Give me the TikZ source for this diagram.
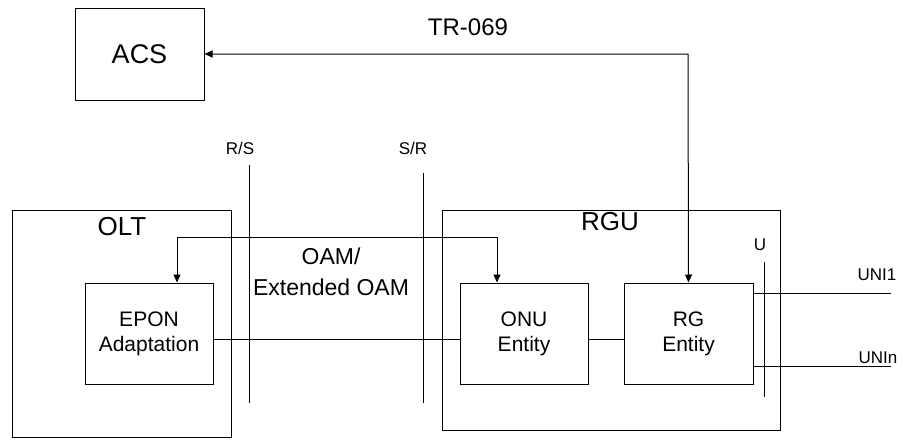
\documentclass[tikz,border=0pt]{standalone}
\usepackage{fontspec}
\setmainfont{Liberation Sans}
\usetikzlibrary{arrows.meta}
\begin{document}
\begin{tikzpicture}[x=1pt,y=-1pt,line width=1pt,
  box/.style={draw,rectangle,inner sep=0pt,align=center,font=\fontsize{21}{25}\selectfont},
  frame/.style={draw,rectangle,inner sep=0pt},
  lbl/.style={inner sep=0pt,font=\fontsize{17}{20}\selectfont},
  big/.style={inner sep=0pt,font=\fontsize{26}{30}\selectfont},
  arr/.style={-{Triangle[length=8pt,width=7pt]}},
  darr/.style={{Triangle[length=8pt,width=7pt]}-{Triangle[length=8pt,width=7pt]}}]
\useasboundingbox (0,0) rectangle (904,439);
% frames
\node[frame,minimum width=219pt,minimum height=227pt] (olt) at (121.5,323.5) {};
\node[big] (oltl) at (122,227) {OLT};
\node[frame,minimum width=338pt,minimum height=220pt] (rgu) at (611,320) {};
\node[big] (rgul) at (610,222) {RGU};
% boxes
\node[box,font=\fontsize{27}{30}\selectfont,minimum width=129pt,minimum height=92pt] (acs) at (139.5,54) {ACS};
\node[box,minimum width=128pt,minimum height=101pt,fill=white] (epon) at (149,333.5) {EPON\\Adaptation};
\node[box,minimum width=128pt,minimum height=101pt,fill=white] (onu) at (524,333.5) {ONU\\Entity};
\node[box,minimum width=129pt,minimum height=101pt,fill=white] (rg) at (688.5,333.5) {RG\\Entity};
% labels
\node[inner sep=0pt,font=\fontsize{24}{28}\selectfont] (tr) at (468,27) {TR-069};
\node[lbl] (rsl) at (240,148) {R/S};
\node[lbl] (srl) at (413,148) {S/R};
\node[lbl] (ul) at (760,245) {U};
\node[lbl] (uni1l) at (877,275) {UNI1};
\node[lbl] (uninl) at (878,358) {UNIn};
\node[inner sep=0pt,align=center,font=\fontsize{23}{31}\selectfont] (oam) at (331,271.5) {OAM/\\Extended OAM};
% reference lines
\coordinate (rstop) at (249,165); \coordinate (rsbot) at (249,403);
\coordinate (srtop) at (423,173); \coordinate (srbot) at (423,403);
\coordinate (utop) at (764,262); \coordinate (ubot) at (764,397);
\draw (rstop) -- (rsbot);
\draw (srtop) -- (srbot);
\draw (utop) -- (ubot);
% connectors
\coordinate (trc) at (688,54);
\draw[darr] (rg.north) -- (trc) -- (acs.east);
\coordinate (oam1) at (177,237);
\coordinate (oam2) at (497,237);
\draw[darr] (epon.north -| oam1) -- (oam1) -- (oam2) -- (onu.north -| oam2);
\draw ([yshift=-5.5pt]epon.east) -- ([yshift=-5.5pt]onu.west);
\draw ([yshift=-5.5pt]onu.east) -- ([yshift=-5.5pt]rg.west);
\coordinate (uni1e) at (891,293);
\coordinate (unine) at (891,366);
\draw (rg.east |- uni1e) -- (uni1e);
\draw (rg.east |- unine) -- (unine);
\end{tikzpicture}
\end{document}
